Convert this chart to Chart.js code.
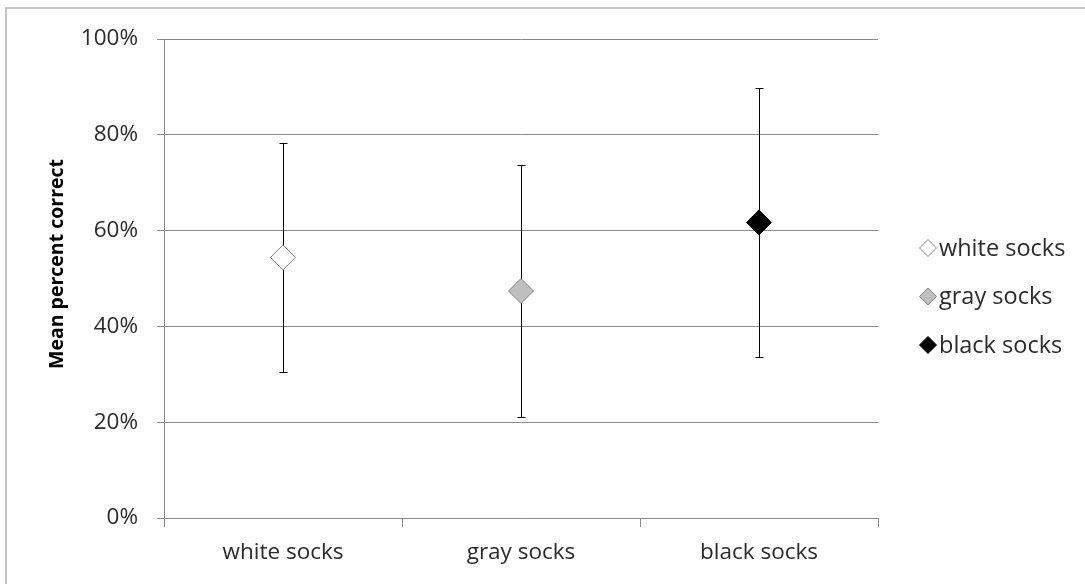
<!DOCTYPE html>
<html>
<head>
<meta charset="utf-8">
<script src="https://cdn.jsdelivr.net/npm/chart.js@4"></script>
<style>
  html, body { margin: 0; padding: 0; background: #fff; }
  #wrap { position: relative; width: 1085px; height: 584px; overflow: hidden; }
  #frame { position: absolute; left: 5px; top: 7px; right: -10px; bottom: -10px; border: 2px solid #c4c4c4; }
  canvas { position: absolute; left: 0; top: 0; }
</style>
</head>
<body>
<div id="wrap">
  <div id="frame"></div>
  <canvas id="sockChart" width="1085" height="584"></canvas>
</div>
<script>
const categories = ["white socks", "gray socks", "black socks"];
const meanCorrect = [0.544, 0.474, 0.617];
const upperBar = [0.782, 0.737, 0.897];
const lowerBar = [0.304, 0.210, 0.336];
const fillColors = ["#ffffff", "#bfbfbf", "#000000"];
const edgeColors = ["#7f7f7f", "#808080", "#000000"];
const yTitle = "Mean percent correct";

const textColor = "#2b2b2b";
const lineColor = "#8a8a8a";
const baseFont = { family: "'Open Sans', sans-serif", size: 22.5 };

// error bars go under the markers
const errorBars = {
  id: "errorBars",
  beforeDatasetsDraw(chart) {
    const { ctx, scales } = chart;
    ctx.save();
    ctx.strokeStyle = "#000";
    ctx.lineWidth = 1;
    categories.forEach((cat, i) => {
      const x = Math.round(scales.x.getPixelForValue(i)) + 0.5;
      const top = Math.round(scales.y.getPixelForValue(upperBar[i])) + 0.5;
      const bottom = Math.round(scales.y.getPixelForValue(lowerBar[i])) + 0.5;
      ctx.beginPath();
      ctx.moveTo(x, top);
      ctx.lineTo(x, bottom);
      ctx.moveTo(x - 4, top);
      ctx.lineTo(x + 4, top);
      ctx.moveTo(x - 4, bottom);
      ctx.lineTo(x + 4, bottom);
      ctx.stroke();
    });
    ctx.restore();
  }
};

// legend on the right and the rotated axis title
const sideText = {
  id: "sideText",
  afterDraw(chart) {
    const ctx = chart.ctx;
    ctx.save();
    ctx.font = "23.5px 'Open Sans', sans-serif";
    ctx.textBaseline = "middle";
    ctx.textAlign = "left";
    chart.data.datasets.forEach((ds, i) => {
      const y = 248 + i * 48.5;
      ctx.fillStyle = fillColors[i];
      ctx.strokeStyle = edgeColors[i];
      Chart.helpers.drawPoint(ctx, { pointStyle: "rectRot", radius: 8.5, rotation: 0, borderWidth: 1 }, 928, y);
      ctx.fillStyle = textColor;
      ctx.fillText(ds.label, 939, y + 1);
    });

    ctx.translate(57, 264);
    ctx.rotate(-Math.PI / 2);
    ctx.font = "bold 19.5px 'Open Sans', sans-serif";
    ctx.fillStyle = "#000";
    ctx.textAlign = "center";
    ctx.fillText(yTitle, 0, 0);
    ctx.restore();
  }
};

const ctx = document.getElementById("sockChart").getContext("2d");
new Chart(ctx, {
  type: "line",
  data: {
    labels: categories,
    datasets: categories.map((name, i) => ({
      label: name,
      data: categories.map((c, j) => (j === i ? meanCorrect[i] : null)),
      showLine: false,
      pointStyle: "rectRot",
      pointRadius: 12.5,
      pointHoverRadius: 12.5,
      pointBackgroundColor: fillColors[i],
      pointBorderColor: edgeColors[i],
      pointBorderWidth: 1
    }))
  },
  options: {
    responsive: false,
    animation: false,
    events: [],
    layout: { padding: { left: 0, right: 207, top: 39, bottom: 0 } },
    plugins: {
      legend: { display: false },
      tooltip: { enabled: false }
    },
    scales: {
      x: {
        offset: true,
        grid: { offset: true, drawOnChartArea: false, color: lineColor, tickLength: 9 },
        border: { color: lineColor },
        ticks: { padding: 12, color: textColor, font: baseFont },
        afterFit: (s) => { s.height = 66; }
      },
      y: {
        min: 0,
        max: 1,
        ticks: {
          stepSize: 0.2,
          padding: 19,
          color: textColor,
          font: baseFont,
          callback: (v) => Math.round(v * 100) + "%"
        },
        grid: { color: lineColor, tickLength: 7 },
        border: { color: lineColor },
        afterFit: (s) => { s.width = 164; }
      }
    }
  },
  plugins: [errorBars, sideText]
});
</script>
</body>
</html>
